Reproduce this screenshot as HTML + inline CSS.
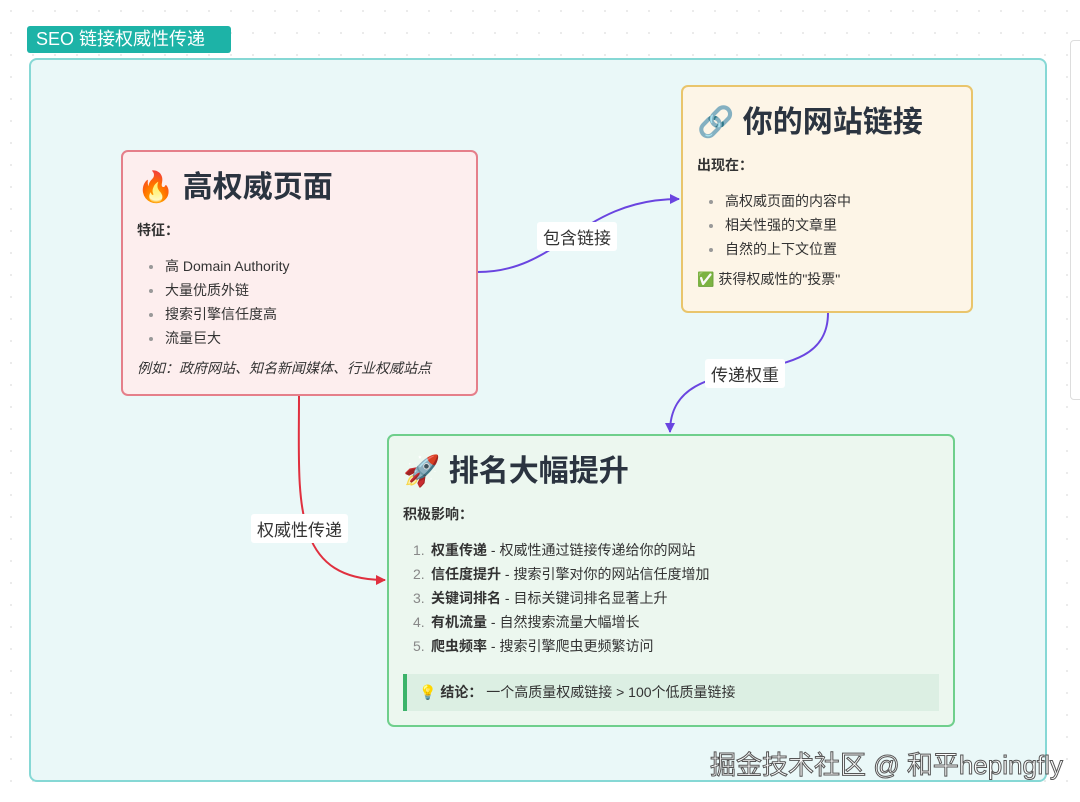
<!DOCTYPE html>
<html><head><meta charset="utf-8"><style>
*{margin:0;padding:0;box-sizing:border-box}
body{width:1080px;height:802px;overflow:hidden;background:#fff;font-family:"Liberation Sans","Noto Sans CJK SC",sans-serif;color:#333;position:relative;
background-image:radial-gradient(#e4e4e4 1px,transparent 1px);background-size:22px 22px}
.abs{position:absolute}
.tag{left:27px;top:26px;width:204px;height:27px;background:#1db3a7;color:#fff;font-size:18px;line-height:27px;padding-left:9px;border-radius:3px}
.frame{left:29px;top:58px;width:1018px;height:724px;border:2px solid #86d8d5;background:#eaf8f8;border-radius:8px}
.box{position:absolute;border-radius:7px;border:2px solid}
h1{font-size:30px;font-weight:bold;color:#2b3440;display:flex;align-items:center;gap:6px}
.small{font-size:14px;color:#333}
.b{font-weight:bold}
ul{list-style:none}
li{font-size:14px;line-height:24px;position:relative;padding-left:28px}
ul li:before{content:"";position:absolute;left:12px;top:11px;width:4px;height:4px;border-radius:50%;background:#999}
ol li{padding-left:28px}
.num{position:absolute;left:10px;color:#888}
.lbl{position:absolute;background:#fff;font-size:17px;color:#333;padding:2px 6px;border-radius:3px}
</style></head><body>
<div class="abs tag">SEO 链接权威性传递</div>
<div class="abs frame"></div>
<div class="abs" style="left:1070px;top:40px;width:20px;height:360px;border:1px solid #ddd;border-radius:4px;background:#fff"></div>

<svg class="abs" style="left:0;top:0" width="1080" height="802">
<defs>
<marker id="ap" markerWidth="10" markerHeight="10" refX="9" refY="5" orient="auto" markerUnits="userSpaceOnUse"><path d="M0,0 L10,5 L0,10z" fill="#6a45e0"/></marker>
<marker id="ar" markerWidth="10" markerHeight="10" refX="9" refY="5" orient="auto" markerUnits="userSpaceOnUse"><path d="M0,0 L10,5 L0,10z" fill="#e0303f"/></marker>
</defs>
<path d="M478,272 C560,272 580,199 679,199" fill="none" stroke="#6a45e0" stroke-width="2" marker-end="url(#ap)"/>
<path d="M828,313 C828,400 670,340 670,432" fill="none" stroke="#6a45e0" stroke-width="2" marker-end="url(#ap)"/>
<path d="M299,396 C299,500 290,580 385,580" fill="none" stroke="#e0303f" stroke-width="2" marker-end="url(#ar)"/>
</svg>
<div class="lbl" style="left:537px;top:222px">包含链接</div>
<div class="lbl" style="left:705px;top:359px">传递权重</div>
<div class="lbl" style="left:251px;top:514px">权威性传递</div>

<div class="box" style="left:121px;top:150px;width:357px;height:246px;background:#fdeeee;border-color:#e57f8a;padding:10px 14px">
<h1>🔥 高权威页面</h1>
<div class="small b" style="margin-top:14px">特征：</div>
<ul style="margin-top:14px"><li>高 Domain Authority</li><li>大量优质外链</li><li>搜索引擎信任度高</li><li>流量巨大</li></ul>
<div class="small" style="font-style:italic;margin-top:8px">例如：政府网站、知名新闻媒体、行业权威站点</div>
</div>

<div class="box" style="left:681px;top:85px;width:292px;height:228px;background:#fdf5e7;border-color:#e9c56c;padding:10px 14px">
<h1>🔗 你的网站链接</h1>
<div class="small b" style="margin-top:14px">出现在：</div>
<ul style="margin-top:14px"><li>高权威页面的内容中</li><li>相关性强的文章里</li><li>自然的上下文位置</li></ul>
<div class="small" style="margin-top:8px">✅ 获得权威性的"投票"</div>
</div>

<div class="box" style="left:387px;top:434px;width:568px;height:293px;background:#ecf7ef;border-color:#6fcf8c;padding:10px 14px">
<h1>🚀 排名大幅提升</h1>
<div class="small b" style="margin-top:14px">积极影响：</div>
<ol style="list-style:none;margin-top:14px">
<li><span class="num">1.</span><b>权重传递</b> - 权威性通过链接传递给你的网站</li>
<li><span class="num">2.</span><b>信任度提升</b> - 搜索引擎对你的网站信任度增加</li>
<li><span class="num">3.</span><b>关键词排名</b> - 目标关键词排名显著上升</li>
<li><span class="num">4.</span><b>有机流量</b> - 自然搜索流量大幅增长</li>
<li><span class="num">5.</span><b>爬虫频率</b> - 搜索引擎爬虫更频繁访问</li>
</ol>
<div style="margin-top:16px;background:#dcefe3;border-left:4px solid #3cb36a;height:37px;line-height:37px;padding-left:12px;font-size:14px">💡 <b>结论：</b> 一个高质量权威链接 &gt; 100个低质量链接</div>
</div>

<div class="abs" style="left:710px;top:745px;font-size:26px;color:#fff;-webkit-text-stroke:1px #555;white-space:nowrap">掘金技术社区 @ 和平hepingfly</div>
</body></html>
